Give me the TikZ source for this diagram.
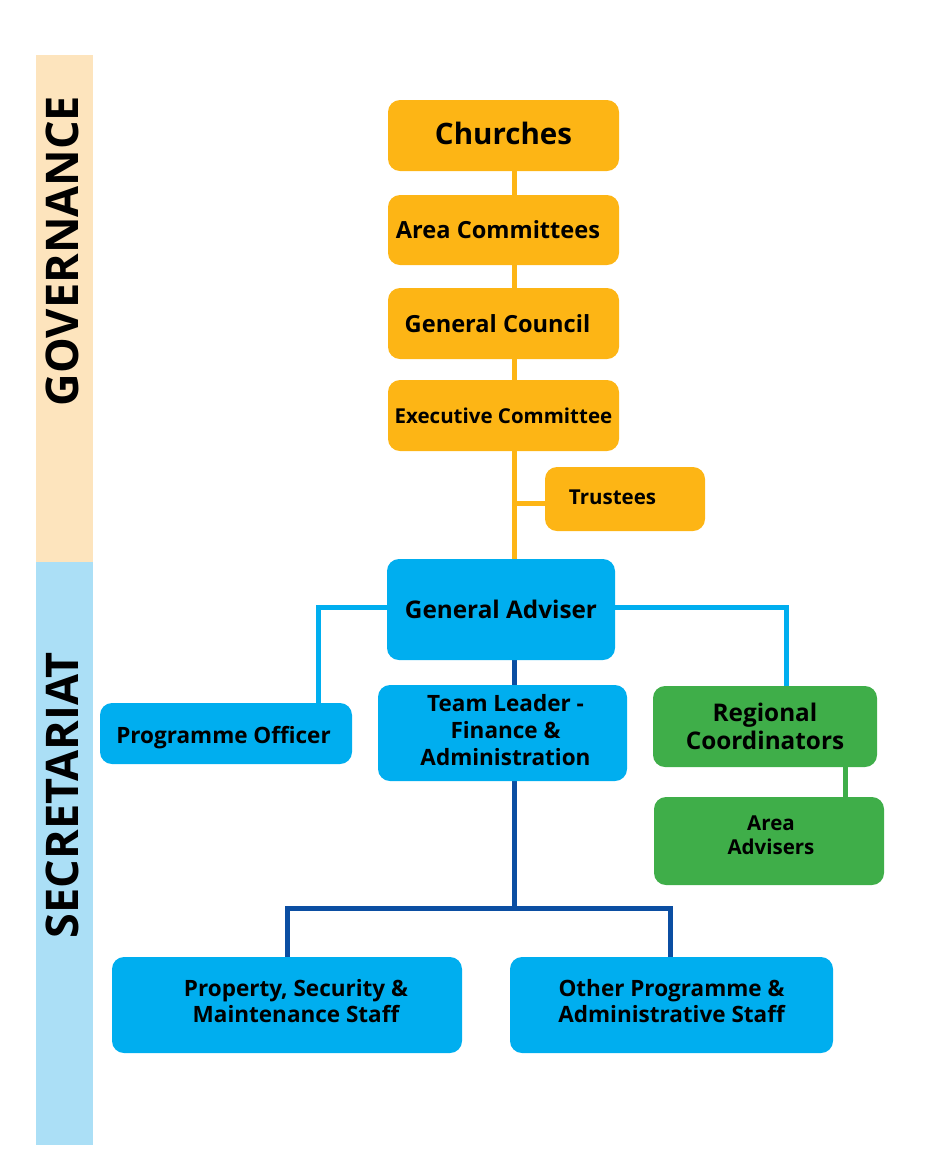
\documentclass[tikz,border=0pt]{standalone}
\usepackage{fontspec}
\setmainfont{Open Sans}
\usetikzlibrary{positioning, backgrounds}
\definecolor{govorange}{HTML}{FDB515}
\definecolor{govband}{HTML}{FDE4BD}
\definecolor{secblue}{HTML}{00AEEF}
\definecolor{secband}{HTML}{ABDFF6}
\definecolor{regreen}{HTML}{3FAE49}
\definecolor{finblue}{HTML}{0B4EA2}
\newcommand{\fsz}[2]{\fontsize{#1pt}{#2pt}\selectfont}
% pad a box above (#1) or below (#2) to move it inside its node
\newcommand{\padbox}[3]{\raisebox{0pt}[\dimexpr\height+#1\relax][\dimexpr\depth+#2\relax]{#3}}
\tikzset{
  orgbox/.style={rounded corners=12pt, inner sep=0pt, align=center,
                 text=black},
  govbox/.style={orgbox, fill=govorange},
  secbox/.style={orgbox, fill=secblue},
  regbox/.style={orgbox, fill=regreen},
  govline/.style={govorange, line width=5pt},
  secline/.style={secblue, line width=5pt},
  finline/.style={finblue, line width=5pt},
  regline/.style={regreen, line width=5pt},
  bandlabel/.style={rotate=90, font=\fsz{45}{50}\bfseries, text=black}
}

\begin{document}
\begin{tikzpicture}[x=1pt, y=-1pt]
  \useasboundingbox (0,0) rectangle (930,1168);

  % side bands
  \fill[govband] (36,55) rectangle (93,562);
  \fill[secband] (36,562) rectangle (93,1145);
  \node[bandlabel] (govlabel) at (62,251) {GOVERNANCE};
  \node[bandlabel] (seclabel) at (62,795) {SECRETARIAT};

  % governance
  \node[govbox, minimum width=231pt, minimum height=71pt,
        font=\fsz{29.5}{34}\bfseries] (churches) at (503.5,135.5)
        {\padbox{0pt}{4pt}{Churches}};
  \node[govbox, minimum width=231pt, minimum height=70pt,
        font=\fsz{23.6}{28}\bfseries] (areacom) at (503.5,230)
        {\hspace*{-11pt}Area Committees};
  \node[govbox, minimum width=231pt, minimum height=71pt,
        font=\fsz{23.6}{28}\bfseries] (gencouncil) at (503.5,323.5)
        {\hspace*{-12pt}General Council};
  \node[govbox, minimum width=231pt, minimum height=71pt,
        font=\fsz{20.5}{24}\bfseries] (execcom) at (503.5,415.5) {Executive Committee};
  \node[govbox, minimum width=160pt, minimum height=64pt,
        font=\fsz{20.5}{24}\bfseries] (trustees) at (625,499)
        {\hspace*{-25pt}\padbox{0pt}{3pt}{Trustees}};

  % secretariat
  \node[secbox, minimum width=228pt, minimum height=101pt,
        font=\fsz{24.3}{28}\bfseries] (genadv) at (501,609.5) {General Adviser};
  \node[secbox, minimum width=252pt, minimum height=61pt,
        font=\fsz{22.5}{26}\bfseries] (progoff) at (226,733.5)
        {\hspace*{-5pt}\padbox{8pt}{0pt}{Programme Officer}};
  \node[secbox, minimum width=249pt, minimum height=96pt,
        font=\fsz{22.5}{27}\bfseries] (teamlead) at (502.5,733)
        {\hspace*{6pt}\padbox{0pt}{0pt}{\begin{tabular}{@{}c@{}}Team Leader -\\Finance \&\\Administration\end{tabular}}};
  \node[regbox, minimum width=224pt, minimum height=81pt,
        font=\fsz{24.3}{28}\bfseries] (regcoord) at (765,726.5)
        {Regional\\Coordinators};
  \node[regbox, minimum width=230pt, minimum height=88pt,
        font=\fsz{20.5}{24}\bfseries] (areaadv) at (769,841)
        {\hspace*{4pt}\padbox{0pt}{6pt}{\begin{tabular}{@{}c@{}}Area\\Advisers\end{tabular}}};
  \node[secbox, minimum width=350pt, minimum height=96pt,
        font=\fsz{22.5}{26}\bfseries] (property) at (287,1005)
        {\hspace*{18pt}\padbox{0pt}{2pt}{\begin{tabular}{@{}c@{}}Property, Security \&\\Maintenance Staff\end{tabular}}};
  \node[secbox, minimum width=323pt, minimum height=96pt,
        font=\fsz{22.5}{26}\bfseries] (otherstaff) at (671.5,1005)
        {\padbox{0pt}{2pt}{\begin{tabular}{@{}c@{}}Other Programme \&\\Administrative Staff\end{tabular}}};

  % connectors
  \coordinate (trunk) at (514,0);
  \coordinate (pojoin) at (318,703);
  \coordinate (rcjoin) at (786,686);
  \coordinate (rcaa) at (845,0);
  \begin{scope}[on background layer]
    \draw[govline] (churches.south -| trunk) -- (genadv.north -| trunk);
    \draw[govline] (trustees.west) ++(0,4) -- ++(-32,0);
    \draw[secline] ([yshift=2pt]genadv.west) -| (pojoin);
    \draw[secline] ([yshift=2pt]genadv.east) -| (rcjoin);
    \draw[finline] (genadv.south -| trunk) -- (teamlead.north -| trunk);
    \draw[finline] (teamlead.south -| trunk) -- ++(0,127) coordinate (fork);
    \draw[finline] (fork) -| (property.north);
    \draw[finline] (fork) -| ([xshift=-1.5pt]otherstaff.north);
    \draw[regline] (regcoord.south -| rcaa) -- (areaadv.north -| rcaa);
  \end{scope}
\end{tikzpicture}
\end{document}
